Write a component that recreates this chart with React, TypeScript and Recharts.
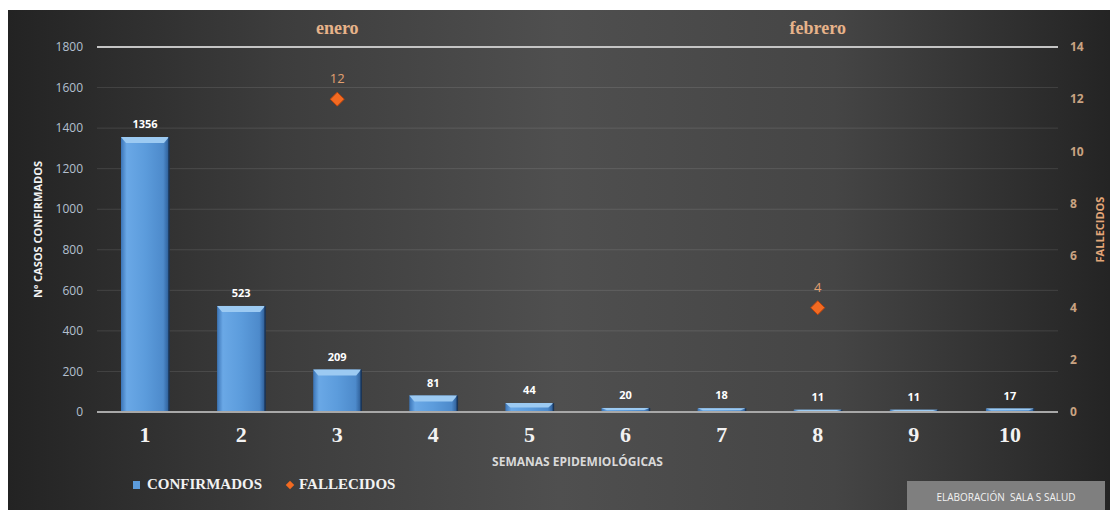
import React from "react"
import { ComposedChart, Bar, Line, XAxis, YAxis, CartesianGrid, LabelList } from "recharts"

const semanas = [1, 2, 3, 4, 5, 6, 7, 8, 9, 10]
const confirmados = [1356, 523, 209, 81, 44, 20, 18, 11, 11, 17]
const fallecidos: (number | null)[] = [null, null, 12, null, null, null, null, 4, null, null]
const meses = ["enero", "febrero"]
const semanaCentralMes = [3, 8]
const ticksCasos = [0, 200, 400, 600, 800, 1000, 1200, 1400, 1600, 1800]
const ticksFallecidos = [0, 2, 4, 6, 8, 10, 12, 14]

const data = semanas.map((s, i) => ({
  semana: s,
  confirmados: confirmados[i],
  fallecidos: fallecidos[i],
}))

const BevelBar = (props: any) => {
  const { x, y, width, height } = props
  if (!height || height <= 0) return null
  const b = Math.min(6, height / 2)
  return (
    <g>
      <rect x={x} y={y} width={width} height={height} fill="url(#barGrad)" />
      <polygon
        points={`${x},${y} ${x + width},${y} ${x + width - 5},${y + b} ${x + 5},${y + b}`}
        fill="#9ccaf2"
      />
      <line x1={x + width} y1={y} x2={x + width} y2={y + height} stroke="#1b3556" strokeWidth={1.5} />
    </g>
  )
}

const Diamond = (props: any) => {
  const { cx, cy, value, index } = props
  if (value == null || cx == null || cy == null) return <g key={index} />
  const r = 7
  return (
    <polygon
      key={index}
      points={`${cx},${cy - r} ${cx + r},${cy} ${cx},${cy + r} ${cx - r},${cy}`}
      fill="#f36a21"
      stroke="#b8420e"
      strokeWidth={1}
    />
  )
}

const MonthTick = (props: any) => {
  const { x, y, payload } = props
  const idx = semanaCentralMes.indexOf(payload.value)
  if (idx < 0) return <g />
  return (
    <text
      x={x}
      y={y - 13}
      textAnchor="middle"
      fill="#e7b38a"
      fontSize={18}
      fontWeight="bold"
      fontFamily="'Liberation Serif', 'DejaVu Serif', serif"
    >
      {meses[idx]}
    </text>
  )
}

export default function App() {
  return (
    <div
      style={{
        position: "relative",
        width: 1102,
        height: 500,
        marginTop: 2,
        background:
          "linear-gradient(90deg, #232323 0%, #3d3d3d 25%, #4f4f4f 50%, #454545 75%, #242424 100%)",
        fontFamily: "'Open Sans', sans-serif",
      }}
    >
      <ComposedChart width={1102} height={500} data={data} margin={{ top: 0, right: 0, bottom: 0, left: 0 }} barCategoryGap="50%">
        <defs>
          <linearGradient id="barGrad" x1="0" y1="0" x2="1" y2="0">
            <stop offset="0%" stopColor="#3b74b6" />
            <stop offset="12%" stopColor="#6aa8e6" />
            <stop offset="50%" stopColor="#5c9cdc" />
            <stop offset="88%" stopColor="#4d8acb" />
            <stop offset="100%" stopColor="#2c5b94" />
          </linearGradient>
        </defs>
        <CartesianGrid yAxisId="left" xAxisId="bottom" vertical={false} stroke="rgba(255,255,255,0.11)" />
        <XAxis
          xAxisId="top"
          orientation="top"
          dataKey="semana"
          height={37}
          axisLine={{ stroke: "#c4c4c4", strokeWidth: 2 }}
          tickLine={false}
          tickSize={0}
          tickMargin={0}
          interval={0}
          tick={<MonthTick />}
        />
        <XAxis
          xAxisId="bottom"
          dataKey="semana"
          height={98}
          axisLine={{ stroke: "#a8a8a8", strokeWidth: 2 }}
          tickLine={false}
          tickSize={0}
          tickMargin={14}
          interval={0}
          tick={{ fill: "#f2f2f2", fontSize: 22, fontWeight: "bold", fontFamily: "'Liberation Serif', serif" }}
          label={{
            value: "SEMANAS EPIDEMIOLÓGICAS",
            position: "insideTop",
            offset: 45,
            fill: "#d9d9d9",
            fontSize: 12,
            fontWeight: "bold",
          }}
        />
        <YAxis
          yAxisId="left"
          width={89}
          domain={[0, 1800]}
          ticks={ticksCasos}
          axisLine={false}
          tickLine={false}
          tickSize={0}
          tickMargin={14}
          tick={{ fill: "#b4c0d0", fontSize: 12 }}
          label={{
            value: "Nº CASOS CONFIRMADOS",
            angle: -90,
            position: "insideLeft",
            offset: 30,
            fill: "#f2f2f2",
            fontSize: 11,
            fontWeight: "bold",
            style: { textAnchor: "middle" },
          }}
        />
        <YAxis
          yAxisId="right"
          orientation="right"
          width={52}
          domain={[0, 14]}
          ticks={ticksFallecidos}
          axisLine={false}
          tickLine={false}
          tickSize={0}
          tickMargin={12}
          tick={{ fill: "#c9a382", fontSize: 12, fontWeight: "bold" }}
          label={{
            value: "FALLECIDOS",
            angle: -90,
            position: "insideRight",
            offset: 10,
            fill: "#e3a678",
            fontSize: 11,
            fontWeight: "bold",
            style: { textAnchor: "middle" },
          }}
        />
        <Bar
          xAxisId="bottom"
          yAxisId="left"
          dataKey="confirmados"
          barSize={48}
          shape={<BevelBar />}
          isAnimationActive={false}
        >
          <LabelList dataKey="confirmados" position="top" offset={9} fill="#ffffff" fontSize={11} fontWeight="bold" />
        </Bar>
        <Line
          xAxisId="bottom"
          yAxisId="right"
          dataKey="fallecidos"
          stroke="none"
          dot={<Diamond />}
          activeDot={false}
          connectNulls={false}
          isAnimationActive={false}
        >
          <LabelList dataKey="fallecidos" position="top" offset={16} fill="#e2a071" fontSize={13} />
        </Line>
      </ComposedChart>

      <div
        style={{
          position: "absolute",
          left: 125,
          top: 466,
          display: "flex",
          alignItems: "center",
          fontFamily: "'Liberation Serif', serif",
          fontWeight: "bold",
          fontSize: 15,
          color: "#f2f2f2",
        }}
      >
        <span style={{ display: "inline-block", width: 7, height: 8, background: "#5c9cdc", marginRight: 7 }} />
        <span>CONFIRMADOS</span>
        <span
          style={{
            display: "inline-block",
            width: 6,
            height: 6,
            background: "#f36a21",
            transform: "rotate(45deg)",
            marginLeft: 25,
            marginRight: 6,
          }}
        />
        <span>FALLECIDOS</span>
      </div>

      <div
        style={{
          position: "absolute",
          left: 899,
          top: 471,
          width: 198,
          height: 31,
          background: "#7f7f7f",
          color: "#f2f2f2",
          fontSize: 10,
          display: "flex",
          alignItems: "center",
          justifyContent: "center",
        }}
      >
        ELABORACIÓN&nbsp; SALA S SALUD
      </div>
    </div>
  )
}
